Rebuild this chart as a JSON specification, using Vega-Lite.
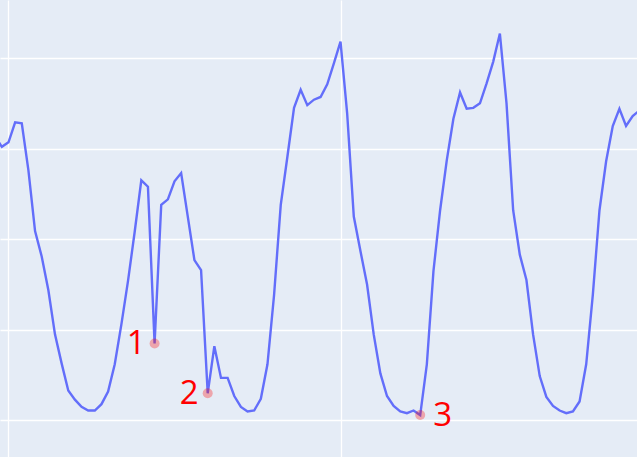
{
  "$schema": "https://vega.github.io/schema/vega-lite/v6.json",
  "width": 637,
  "height": 457,
  "autosize": {"type": "fit", "contains": "padding"},
  "padding": 0,
  "background": "#E5ECF6",
  "config": {
    "view": {"stroke": null, "fill": "#E5ECF6"},
    "axis": {"minExtent": 0, "maxExtent": 0, "labels": false, "ticks": false, "domain": false, "title": null, "grid": true, "gridColor": "#FFFFFF", "gridWidth": 1.3, "gridOpacity": 1}
  },
  "data": {
    "values": [
      {"t": 48, "v": 3.13}, {"t": 49, "v": 3.02}, {"t": 50, "v": 3.07}, {"t": 51, "v": 3.29}, {"t": 52, "v": 3.28},
      {"t": 53, "v": 2.76}, {"t": 54, "v": 2.09}, {"t": 55, "v": 1.81}, {"t": 56, "v": 1.44}, {"t": 57, "v": 0.95},
      {"t": 58, "v": 0.63}, {"t": 59, "v": 0.33}, {"t": 60, "v": 0.23}, {"t": 61, "v": 0.15}, {"t": 62, "v": 0.11},
      {"t": 63, "v": 0.11}, {"t": 64, "v": 0.18}, {"t": 65, "v": 0.32}, {"t": 66, "v": 0.62}, {"t": 67, "v": 1.06},
      {"t": 68, "v": 1.54}, {"t": 69, "v": 2.08}, {"t": 70, "v": 2.65}, {"t": 71, "v": 2.58}, {"t": 72, "v": 0.85, "label": "1"},
      {"t": 73, "v": 2.38}, {"t": 74, "v": 2.44}, {"t": 75, "v": 2.64}, {"t": 76, "v": 2.73}, {"t": 77, "v": 2.25},
      {"t": 78, "v": 1.77}, {"t": 79, "v": 1.66}, {"t": 80, "v": 0.30, "label": "2"}, {"t": 81, "v": 0.82}, {"t": 82, "v": 0.47},
      {"t": 83, "v": 0.47}, {"t": 84, "v": 0.27}, {"t": 85, "v": 0.15}, {"t": 86, "v": 0.10}, {"t": 87, "v": 0.11},
      {"t": 88, "v": 0.24}, {"t": 89, "v": 0.62}, {"t": 90, "v": 1.39}, {"t": 91, "v": 2.38}, {"t": 92, "v": 2.91},
      {"t": 93, "v": 3.45}, {"t": 94, "v": 3.65}, {"t": 95, "v": 3.48}, {"t": 96, "v": 3.54}, {"t": 97, "v": 3.57},
      {"t": 98, "v": 3.71}, {"t": 99, "v": 3.94}, {"t": 100, "v": 4.18}, {"t": 101, "v": 3.39}, {"t": 102, "v": 2.25},
      {"t": 103, "v": 1.87}, {"t": 104, "v": 1.50}, {"t": 105, "v": 0.95}, {"t": 106, "v": 0.52}, {"t": 107, "v": 0.27},
      {"t": 108, "v": 0.16}, {"t": 109, "v": 0.10}, {"t": 110, "v": 0.08}, {"t": 111, "v": 0.11}, {"t": 112, "v": 0.06, "label": "3"},
      {"t": 113, "v": 0.62}, {"t": 114, "v": 1.65}, {"t": 115, "v": 2.32}, {"t": 116, "v": 2.87}, {"t": 117, "v": 3.33},
      {"t": 118, "v": 3.62}, {"t": 119, "v": 3.44}, {"t": 120, "v": 3.45}, {"t": 121, "v": 3.50}, {"t": 122, "v": 3.72},
      {"t": 123, "v": 3.96}, {"t": 124, "v": 4.27}, {"t": 125, "v": 3.50}, {"t": 126, "v": 2.32}, {"t": 127, "v": 1.83},
      {"t": 128, "v": 1.55}, {"t": 129, "v": 0.95}, {"t": 130, "v": 0.49}, {"t": 131, "v": 0.26}, {"t": 132, "v": 0.16},
      {"t": 133, "v": 0.11}, {"t": 134, "v": 0.08}, {"t": 135, "v": 0.10}, {"t": 136, "v": 0.21}, {"t": 137, "v": 0.62},
      {"t": 138, "v": 1.39}, {"t": 139, "v": 2.32}, {"t": 140, "v": 2.86}, {"t": 141, "v": 3.25}, {"t": 142, "v": 3.44},
      {"t": 143, "v": 3.25}, {"t": 144, "v": 3.36}, {"t": 145, "v": 3.42}
    ]
  },
  "encoding": {
    "x": {"field": "t", "type": "quantitative", "scale": {"domain": [48.72, 144.65], "nice": false, "zero": false}, "axis": {"values": [50, 100]}},
    "y": {"field": "v", "type": "quantitative", "scale": {"domain": [-0.403, 4.64], "nice": false, "zero": false}, "axis": {"values": [0, 1, 2, 3, 4]}}
  },
  "layer": [
    {"mark": {"type": "line", "color": "#636EFA", "strokeWidth": 2.4, "clip": true}},
    {"transform": [{"filter": "datum.label != null"}], "mark": {"type": "circle", "color": "#FF0000", "opacity": 0.3, "size": 100}},
    {"transform": [{"filter": "datum.label == '1' || datum.label == '2'"}], "mark": {"type": "text", "color": "#FF0000", "font": "Open Sans", "fontSize": 33, "align": "right", "baseline": "middle", "dx": -9, "dy": 1}, "encoding": {"text": {"field": "label"}}},
    {"transform": [{"filter": "datum.label == '3'"}], "mark": {"type": "text", "color": "#FF0000", "font": "Open Sans", "fontSize": 33, "align": "left", "baseline": "middle", "dx": 13, "dy": 1}, "encoding": {"text": {"field": "label"}}}
  ]
}
